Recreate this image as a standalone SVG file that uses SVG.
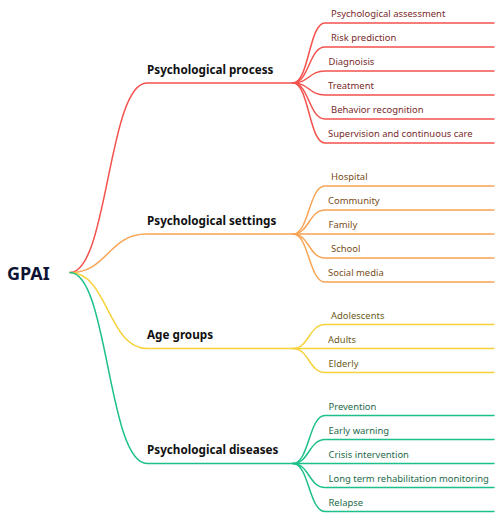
<svg xmlns="http://www.w3.org/2000/svg" width="498" height="520" viewBox="0 0 498 520">
<style>
.l{fill:none;stroke-width:1.5;stroke-linecap:round}
.r{stroke:#f4524d}.o{stroke:#f8a455}.y{stroke:#f6d23d}.g{stroke:#1cc08a}
text{font-family:"Noto Sans","Liberation Sans",sans-serif}
.t1{font-size:11.7px;font-weight:bold;fill:#111}
.t2{font-size:9.45px}
.tr{fill:#7a2a2a}.to{fill:#7a4d20}.ty{fill:#6b5c1a}.tg{fill:#1e6a4a}
</style>
<rect width="498" height="520" fill="#fff"/>
<g id="connectors">
<path class="l r" d="M70,272.5 C108,272.5 108,83 147,83 H293"/>
<path class="l o" d="M70,272.5 C108,272.5 108,234 147,234 H293"/>
<path class="l y" d="M70,272.5 C108,272.5 108,348.5 147,348.5 H293"/>
<path class="l g" d="M70,272.5 C108,272.5 108,463.5 147,463.5 H293"/>
<g class="l r">
<path d="M293,83 C309,83 309,23 325,23 H494"/>
<path d="M293,83 C309,83 309,47 325,47 H494"/>
<path d="M293,83 C309,83 309,71 325,71 H494"/>
<path d="M293,83 C309,83 309,95 325,95 H494"/>
<path d="M293,83 C309,83 309,119 325,119 H494"/>
<path d="M293,83 C309,83 309,143 325,143 H494"/>
</g>
<g class="l o">
<path d="M293,234 C309,234 309,186 325,186 H494"/>
<path d="M293,234 C309,234 309,210 325,210 H494"/>
<path d="M293,234 C309,234 309,234 325,234 H494"/>
<path d="M293,234 C309,234 309,258 325,258 H494"/>
<path d="M293,234 C309,234 309,282 325,282 H494"/>
</g>
<g class="l y">
<path d="M293,348.5 C309,348.5 309,324.5 325,324.5 H494"/>
<path d="M293,348.5 C309,348.5 309,348.5 325,348.5 H494"/>
<path d="M293,348.5 C309,348.5 309,372.5 325,372.5 H494"/>
</g>
<g class="l g">
<path d="M293,463.5 C309,463.5 309,415.5 325,415.5 H494"/>
<path d="M293,463.5 C309,463.5 309,439.5 325,439.5 H494"/>
<path d="M293,463.5 C309,463.5 309,463.5 325,463.5 H494"/>
<path d="M293,463.5 C309,463.5 309,487.5 325,487.5 H494"/>
<path d="M293,463.5 C309,463.5 309,511.5 325,511.5 H494"/>
</g>
</g>
<g id="root"><text x="7" y="280" style="font-size:18px;font-weight:bold;fill:#0d1333">GPAI</text></g>
<g id="n-process"><text class="t1" x="147" y="73.5">Psychological process</text></g>
<g id="n-settings"><text class="t1" x="147" y="224.5">Psychological settings</text></g>
<g id="n-age"><text class="t1" x="147" y="339">Age groups</text></g>
<g id="n-diseases"><text class="t1" x="147" y="454">Psychological diseases</text></g>
<g id="c-assess"><text class="t2 tr" x="331" y="17">Psychological assessment</text></g>
<g id="c-risk"><text class="t2 tr" x="331" y="41">Risk prediction</text></g>
<g id="c-diag"><text class="t2 tr" x="328.5" y="65">Diagnoisis</text></g>
<g id="c-treat"><text class="t2 tr" x="328" y="89">Treatment</text></g>
<g id="c-behav"><text class="t2 tr" x="331" y="113">Behavior recognition</text></g>
<g id="c-superv"><text class="t2 tr" x="328" y="137">Supervision and continuous care</text></g>
<g id="c-hosp"><text class="t2 to" x="331" y="180">Hospital</text></g>
<g id="c-comm"><text class="t2 to" x="328" y="204">Community</text></g>
<g id="c-fam"><text class="t2 to" x="328.5" y="228">Family</text></g>
<g id="c-school"><text class="t2 to" x="331" y="252">School</text></g>
<g id="c-social"><text class="t2 to" x="328" y="276">Social media</text></g>
<g id="c-adol"><text class="t2 ty" x="331" y="318.5">Adolescents</text></g>
<g id="c-adult"><text class="t2 ty" x="328" y="342.5">Adults</text></g>
<g id="c-elder"><text class="t2 ty" x="328.5" y="366.5">Elderly</text></g>
<g id="c-prev"><text class="t2 tg" x="328.5" y="409.5">Prevention</text></g>
<g id="c-early"><text class="t2 tg" x="328.5" y="433.5">Early warning</text></g>
<g id="c-crisis"><text class="t2 tg" x="328.5" y="457.5">Crisis intervention</text></g>
<g id="c-long"><text class="t2 tg" x="328.5" y="481.5">Long term rehabilitation monitoring</text></g>
<g id="c-relapse"><text class="t2 tg" x="328.5" y="505.5">Relapse</text></g>
</svg>
